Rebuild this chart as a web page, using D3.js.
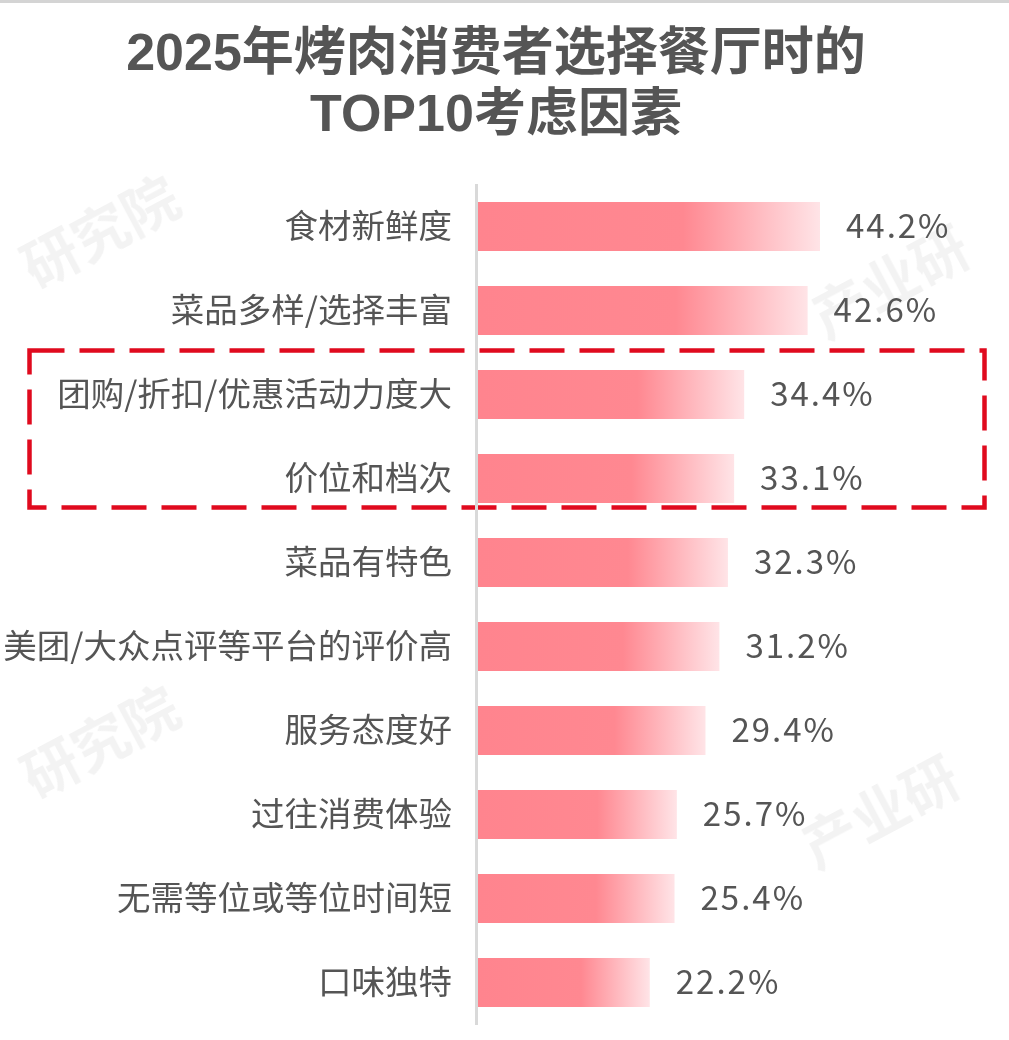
<!DOCTYPE html>
<html><head><meta charset="utf-8">
<script src="https://cdn.jsdelivr.net/npm/d3@7"></script>
<style>
html,body{margin:0;padding:0;background:#fff;}
svg{display:block;}
</style></head>
<body>
<svg id="chart" width="1009" height="1040"></svg>
<script>
const titleLines = ["2025年烤肉消费者选择餐厅时的", "TOP10考虑因素"];
const categories = ["食材新鲜度","菜品多样/选择丰富","团购/折扣/优惠活动力度大","价位和档次","菜品有特色","美团/大众点评等平台的评价高","服务态度好","过往消费体验","无需等位或等位时间短","口味独特"];
const values = [44.2,42.6,34.4,33.1,32.3,31.2,29.4,25.7,25.4,22.2];
const highlighted = ["团购/折扣/优惠活动力度大","价位和档次"];

const svg = d3.select("#chart");
const W = 1009, H = 1040;
const font = "'Noto Sans CJK SC','Microsoft YaHei',sans-serif";

// top frame line
svg.append("rect").attr("x",0).attr("y",0).attr("width",W).attr("height",3).attr("fill","#d4d4d4");

// watermarks
const wm = svg.append("g").attr("fill","#000").attr("opacity",0.05).attr("font-family",font).attr("font-weight",700).attr("font-size",56);
[[110,250,"研究院"],[110,760,"研究院"],[900,300,"产业研"],[890,830,"产业研"]].forEach(([x,y,t])=>{
  wm.append("text").attr("transform",`translate(${x},${y}) rotate(-28)`).attr("text-anchor","middle").text(t);
});

// gradient
const defs = svg.append("defs");
const grad = defs.append("linearGradient").attr("id","barGrad").attr("x1","0").attr("x2","1").attr("y1","0").attr("y2","0");
grad.append("stop").attr("offset","0").attr("stop-color","#ff848e");
grad.append("stop").attr("offset","0.6").attr("stop-color","#ff8891");
grad.append("stop").attr("offset","1").attr("stop-color","#ffe4e7");

// title
svg.append("g").selectAll("text").data(titleLines).join("text")
  .attr("x",496).attr("y",(d,i)=>70+i*61)
  .attr("text-anchor","middle")
  .attr("font-family","'Liberation Sans','Noto Sans CJK SC',sans-serif").attr("font-weight",700).attr("font-size",52)
  .attr("fill","#555555").text(d=>d);

const x0 = 478;
const x = d3.scaleLinear().domain([0,44.2]).range([x0,820]);
const y = d3.scaleBand().domain(categories).range([184.5,1024.5]).paddingInner(35/84).paddingOuter(35/168);

// highlight box
const hb = highlighted.map(c=>y(c));
const gap = y.step()-y.bandwidth();
svg.append("rect")
  .attr("x",29.5).attr("y",d3.min(hb)-gap/2-2)
  .attr("width",955).attr("height",y.step()*2-11)
  .attr("fill","none").attr("stroke","#e00a1e").attr("stroke-width",4.5)
  .attr("stroke-dasharray","35 15");

// bars
svg.append("g").selectAll("rect").data(categories).join("rect")
  .attr("x",x(0)).attr("y",d=>y(d))
  .attr("width",(d,i)=>x(values[i])-x(0)).attr("height",y.bandwidth())
  .attr("fill","url(#barGrad)");

// axis line
svg.append("line").attr("x1",476.5).attr("x2",476.5).attr("y1",184).attr("y2",1025)
  .attr("stroke","#d9d9d9").attr("stroke-width",3);

// category labels
svg.append("g").selectAll("text").data(categories).join("text")
  .attr("x",452).attr("y",d=>y(d)+y.bandwidth()/2)
  .attr("dy","0.35em").attr("text-anchor","end")
  .attr("font-family",font).attr("font-size",33.5).attr("fill","#555555")
  .text(d=>d);

// value labels
svg.append("g").selectAll("text").data(categories).join("text")
  .attr("x",(d,i)=>x(values[i])+26).attr("y",d=>y(d)+y.bandwidth()/2)
  .attr("dy","0.35em")
  .attr("font-family",font).attr("font-size",33).attr("letter-spacing",2).attr("fill","#555555")
  .text((d,i)=>values[i].toFixed(1)+"%");
</script>
</body></html>
